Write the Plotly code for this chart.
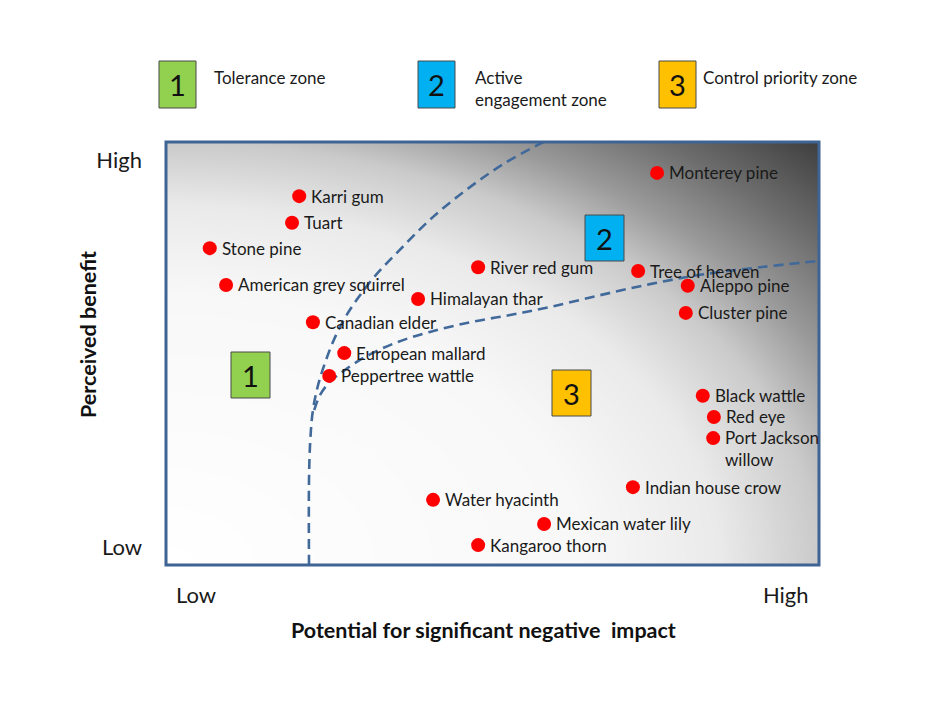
import numpy as np
import plotly.graph_objects as go

# ---------------- data ----------------
species = ["Karri gum", "Tuart", "Stone pine", "American grey squirrel", "Canadian elder",
           "European mallard", "Peppertree wattle", "Himalayan thar", "River red gum",
           "Monterey pine", "Tree of heaven", "Aleppo pine", "Cluster pine", "Black wattle",
           "Red eye", "Port Jackson<br>willow", "Indian house crow", "Water hyacinth",
           "Mexican water lily", "Kangaroo thorn"]
impact = [20.4, 19.3, 6.7, 9.2, 22.5, 27.3, 25.0, 38.6, 47.8, 75.2, 72.3, 79.9, 79.6,
          82.2, 83.9, 83.8, 71.5, 40.9, 57.9, 47.8]
benefit = [87.2, 80.9, 74.9, 66.2, 57.4, 50.1, 44.7, 62.9, 70.4, 92.7, 69.5, 66.0, 59.6,
           40.0, 35.0, 30.0, 18.4, 15.4, 9.7, 4.7]

# zone boundaries (dashed curves)
boundA_x = [21.9, 21.9, 22.1, 22.5, 23.3, 24.4, 25.7, 27.4, 29.4, 32.0, 35.8, 40.9, 46.6, 51.9, 57.8]
boundA_y = [0.0, 20.1, 29.6, 36.6, 42.6, 48.0, 53.2, 58.4, 63.1, 68.3, 74.5, 82.3, 89.4, 95.0, 100.0]
boundB_x = [22.7, 23.6, 25.1, 27.4, 30.5, 35.1, 40.4, 46.6, 52.7, 58.8, 66.5, 74.1, 81.8, 91.0, 100.0]
boundB_y = [36.6, 40.2, 43.3, 46.1, 49.2, 52.5, 55.1, 57.4, 59.1, 61.0, 63.8, 66.4, 68.6, 70.4, 71.9]

x_tick_vals = [4.6, 94.9]
x_tick_text = ["Low", "High"]
y_tick_vals = [4.3, 95.7]
y_tick_text = ["Low", "High"]

zones = ["1", "2", "3"]
zone_names = ["Tolerance zone", "Active<br>engagement zone", "Control priority zone"]
zone_colors = ["#92d050", "#00b0f0", "#ffc000"]

# ---------------- layout helpers ----------------
OFF = 8                      # page body margin
W, H = 940 - 2 * OFF, 705 - 2 * OFF
L, R, T, B = 166, 819, 142, 565   # plot area in reference pixels
FONT = "Lato"


def px(x):
    return (x - L) / (R - L)


def py(y):
    return (B - y) / (B - T)


fig = go.Figure()

# gradient background
gx = np.linspace(0, 100, 61)
gy = np.linspace(0, 100, 61)
U, V = np.meshgrid(gx / 100, gy / 100)
Z = np.sqrt(U ** 2 + V ** 2) / np.sqrt(2)
fig.add_trace(go.Heatmap(
    x=gx, y=gy, z=Z, zmin=0, zmax=1, zsmooth="best", showscale=False, hoverinfo="skip",
    colorscale=[[0, "#ffffff"], [0.45, "#f8f8f8"], [0.6, "#eaeaea"], [0.707, "#cacaca"],
                [0.79, "#9a9a9a"], [0.884, "#6e6e6e"], [1.0, "#3e3e3e"]]))

for bx, by in [(boundA_x, boundA_y), (boundB_x, boundB_y)]:
    fig.add_trace(go.Scatter(x=bx, y=by, mode="lines", line_shape="spline",
                             line=dict(color="#41699a", width=2.6, dash="10px,6px"),
                             hoverinfo="skip", showlegend=False))

fig.add_trace(go.Scatter(x=impact, y=benefit, mode="markers",
                         marker=dict(color="#ff0000", size=14, line=dict(width=0)),
                         showlegend=False, hoverinfo="skip"))

annotations = []
for name, xv, yv in zip(species, impact, benefit):
    multi = "<br>" in name
    annotations.append(dict(
        x=xv, y=yv, xref="x", yref="y", text=name, showarrow=False,
        xanchor="left", yanchor="top" if multi else "middle", align="left",
        xshift=10, yshift=13 if multi else 0,
        font=dict(family=FONT, size=17, color="#1a1a1a")))

shapes = []
# plot border
shapes.append(dict(type="rect", xref="paper", yref="paper", x0=0, x1=1, y0=0, y1=1,
                   line=dict(color="#3e6494", width=3), layer="above"))

# legend boxes (top)
legend_box_x = [159, 418, 659]
legend_text_x = [212, 473, 701]
for i in range(3):
    x0 = legend_box_x[i]
    shapes.append(dict(type="rect", xref="paper", yref="paper",
                       x0=px(x0), x1=px(x0 + 37), y0=py(108), y1=py(61),
                       fillcolor=zone_colors[i], line=dict(color="#4a4a4a", width=1)))
    annotations.append(dict(x=px(x0 + 18.5), y=py(85), xref="paper", yref="paper",
                            xanchor="center", yanchor="middle",
                            text=zones[i], showarrow=False,
                            font=dict(family=FONT, size=29, color="#111")))
    annotations.append(dict(x=px(legend_text_x[i]), y=py(65), xref="paper", yref="paper",
                            text=zone_names[i], showarrow=False, xanchor="left", yanchor="top",
                            align="left",
                            font=dict(family=FONT, size=17, color="#1a1a1a")))

# zone boxes inside plot
inside_box = [(231, 352), (585, 215), (552, 370)]
for i, (x0, y0) in enumerate(inside_box):
    shapes.append(dict(type="rect", xref="paper", yref="paper",
                       x0=px(x0), x1=px(x0 + 39), y0=py(y0 + 46), y1=py(y0),
                       fillcolor=zone_colors[i], line=dict(color="#4a4a4a", width=1)))
    annotations.append(dict(x=px(x0 + 19.5), y=py(y0 + 23), xref="paper", yref="paper",
                            xanchor="center", yanchor="middle",
                            text=zones[i], showarrow=False,
                            font=dict(family=FONT, size=29, color="#111")))

# axis titles
annotations.append(dict(x=px(88), y=py(335), xref="paper", yref="paper",
                        xanchor="center", yanchor="middle",
                        text="<b>Perceived benefit</b>", textangle=-90, showarrow=False,
                        font=dict(family=FONT, size=21.5, color="#111")))
annotations.append(dict(x=px(483), y=py(630), xref="paper", yref="paper",
                        xanchor="center", yanchor="middle",
                        text="<b>Potential for significant negative  impact</b>", showarrow=False,
                        font=dict(family=FONT, size=21.5, color="#111")))

fig.update_layout(
    width=W, height=H,
    margin=dict(l=L - OFF, r=W - (R - OFF), t=T - OFF, b=H - (B - OFF)),
    paper_bgcolor="white", plot_bgcolor="white",
    shapes=shapes, annotations=annotations, showlegend=False,
    xaxis=dict(range=[0, 100], showgrid=False, zeroline=False, showline=False,
               tickvals=x_tick_vals, ticktext=x_tick_text, ticks="", ticklabelstandoff=15,
               tickfont=dict(family=FONT, size=22, color="#1a1a1a"), fixedrange=True),
    yaxis=dict(range=[0, 100], showgrid=False, zeroline=False, showline=False,
               tickvals=y_tick_vals, ticktext=y_tick_text, ticks="", ticklabelstandoff=23,
               tickfont=dict(family=FONT, size=22, color="#1a1a1a"), fixedrange=True),
)

fig.write_html("out.html")
